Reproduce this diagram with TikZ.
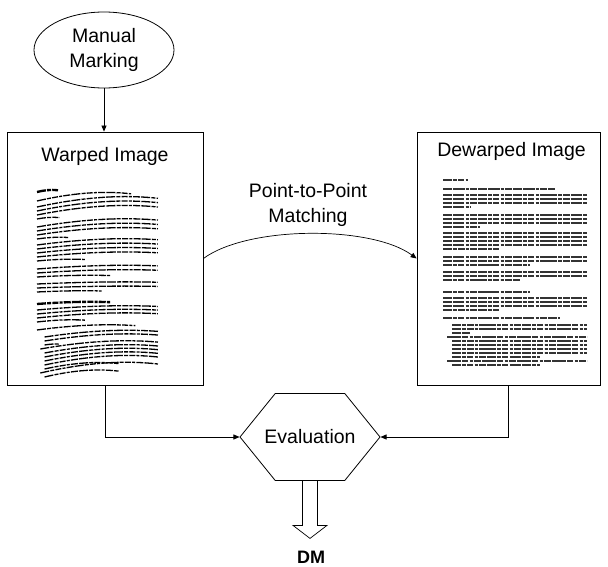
\documentclass[tikz,border=0pt]{standalone}
\usepackage{fontspec}
\setmainfont{Liberation Sans}
\usetikzlibrary{arrows.meta,positioning,shapes.geometric,shapes.symbols}

\tikzset{
  frame/.style={draw, line width=0.8pt},
  imgbox/.style={frame, minimum width=196pt, minimum height=253pt, inner sep=0pt},
  conn/.style={line width=0.7pt, -{Triangle[length=6pt,width=5pt]}},
  txtline/.style={line width=#1, dash pattern=on 9pt off 1.2pt on 4pt off 1.2pt on 6pt off 1.2pt on 3pt off 1.2pt on 7pt off 1.2pt},
}

% simulated lines of a printed page, #1 = amount of warping, #2 = stroke
\newcommand{\pagelines}[2]{%
  \foreach \y/\a/\b/\w in {180/443/468/1.8, 189/443/555/1,
      195/443/587/1, 199/443/587/1, 203/443/587/1, 207/443/470/1,
      215/443/587/1, 219/443/587/1, 223/443/587/1, 227/443/480/1,
      233/443/587/1, 237/443/587/1, 241/443/587/1, 245/443/587/1, 249/443/500/1,
      257/443/587/1, 261/443/587/1, 265/443/530/1,
      272/443/587/1, 276/443/587/1, 280/443/520/1,
      292/443/530/1.8,
      298/443/587/1, 302/443/587/1, 306/443/587/1, 310/443/500/1,
      318/443/560/1,
      325/452/587/1, 329/452/587/1, 333/452/470/1,
      337/447/587/1, 341/452/587/1, 345/452/587/1, 349/452/587/1,
      353/452/587/1, 357/452/540/1, 361/447/587/1, 365/452/540/1}{
    \pgfmathsetmacro{\t}{#1*(abs(\y-275)*0.09+1.5)*(\b-\a)/144}
    \pgfmathsetmacro{\l}{(\b-\a)/3}
    \draw[txtline=#2*\w pt] (\a,\y) .. controls (\a+\l,\y-1.0*\t) and (\b-\l,\y-1.5*\t) .. (\b,\y-\t);
  }}

\begin{document}
\begin{tikzpicture}[x=1pt, y=-1pt, font=\fontsize{19.5}{25}\selectfont]
\useasboundingbox (0,0) rectangle (608,567);
% nodes
\node[frame, ellipse, minimum width=140pt, minimum height=76pt, inner sep=0pt, align=center] (mark) at (104,50) {Manual\\Marking};
\node[imgbox] (warped) at (105,258.5) {};
\node[below=12pt of warped.north] (wtitle) {Warped Image};
\node[imgbox, minimum width=183pt] (dewarped) at (508.5,258.5) {};
\node[below=7pt of dewarped.north, xshift=3pt] (dtitle) {Dewarped Image};
\node[align=center] (match) at (308,205) {Point-to-Point\\Matching};
\node[frame, signal, signal to=west and east, signal pointer angle=102,
      minimum width=140pt, minimum height=87pt, inner sep=0pt,
      label=center:Evaluation] (eval) at (310,437) {};
\node[font=\bfseries\fontsize{18}{22}\selectfont] (dm) at (311,557) {DM};
% page contents
\begin{scope}[shift={(37,192)}, xscale=0.84, shift={(-443,-180)}]
  \pagelines{1}{1.3}
\end{scope}
\begin{scope}[black!80]
  \pagelines{0}{1.1}
\end{scope}
% edges
\draw[conn] (mark.south) -- (mark.south |- warped.north);
\draw[conn] (warped.east) .. controls +(45,-33) and +(-45,-33) .. (dewarped.west);
\draw[conn] (warped.south) |- (eval.west);
\draw[conn] (dewarped.south) |- (eval.east);
\draw[line width=0.7pt] ([xshift=-7.5pt]eval.south) -- ++(0,44.5) -- ++(-9.5,0) -- ++(17,13)
  -- ++(17,-13) -- ++(-9.5,0) -- ++(0,-44.5);
\end{tikzpicture}
\end{document}
